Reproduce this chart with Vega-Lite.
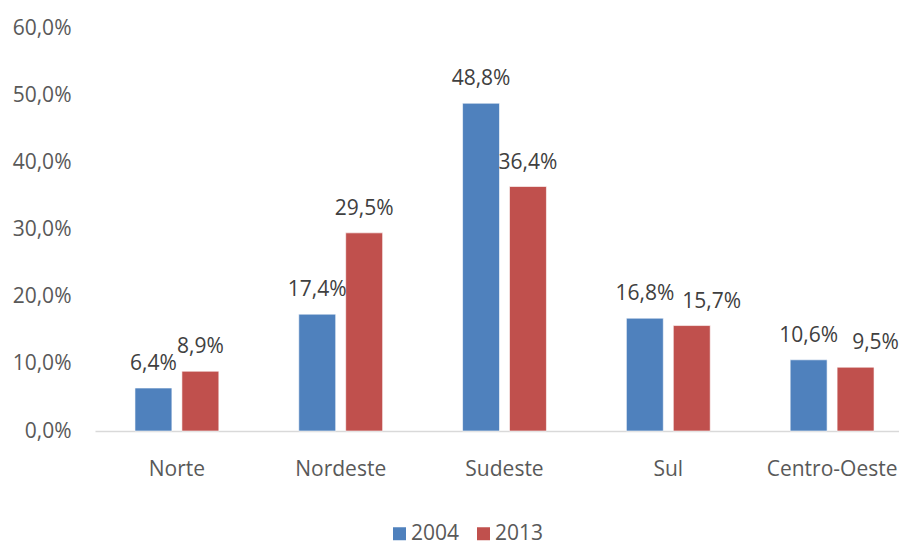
{
  "$schema": "https://vega.github.io/schema/vega-lite/v6.json",
  "width": 804,
  "height": 403,
  "autosize": {"type": "none"},
  "padding": {"left": 95, "top": 28, "right": 0, "bottom": 112},
  "background": "white",
  "config": {
    "view": {"stroke": null},
    "font": "Open Sans"
  },
  "data": {
    "values": [
      {"regiao": "Norte", "ano": "2004", "valor": 6.4, "rotulo": "6,4%"},
      {"regiao": "Norte", "ano": "2013", "valor": 8.9, "rotulo": "8,9%"},
      {"regiao": "Nordeste", "ano": "2004", "valor": 17.4, "rotulo": "17,4%"},
      {"regiao": "Nordeste", "ano": "2013", "valor": 29.5, "rotulo": "29,5%"},
      {"regiao": "Sudeste", "ano": "2004", "valor": 48.8, "rotulo": "48,8%"},
      {"regiao": "Sudeste", "ano": "2013", "valor": 36.4, "rotulo": "36,4%"},
      {"regiao": "Sul", "ano": "2004", "valor": 16.8, "rotulo": "16,8%"},
      {"regiao": "Sul", "ano": "2013", "valor": 15.7, "rotulo": "15,7%"},
      {"regiao": "Centro-Oeste", "ano": "2004", "valor": 10.6, "rotulo": "10,6%"},
      {"regiao": "Centro-Oeste", "ano": "2013", "valor": 9.5, "rotulo": "9,5%"}
    ]
  },
  "encoding": {
    "x": {
      "field": "regiao",
      "type": "nominal",
      "sort": ["Norte", "Nordeste", "Sudeste", "Sul", "Centro-Oeste"],
      "scale": {"range": [0, 819], "paddingInner": 0.488, "paddingOuter": 0.244},
      "axis": {
        "title": null,
        "labelAngle": 0,
        "ticks": false,
        "domainColor": "#d9d9d9",
        "domainWidth": 1.5,
        "labelFontSize": 21,
        "labelColor": "#595959",
        "labelPadding": 27,
        "labelFont": "Open Sans"
      }
    },
    "xOffset": {
      "field": "ano",
      "type": "nominal",
      "scale": {"paddingInner": 0.213, "paddingOuter": 0}
    },
    "y": {
      "field": "valor",
      "type": "quantitative",
      "scale": {"domain": [0, 60]},
      "axis": {
        "title": null,
        "values": [0, 10, 20, 30, 40, 50, 60],
        "labelExpr": "replace(format(datum.value, '.1f'), '.', ',') + '%'",
        "grid": false,
        "domain": false,
        "ticks": false,
        "labelFontSize": 21,
        "labelColor": "#595959",
        "labelPadding": 24,
        "labelFont": "Open Sans"
      }
    }
  },
  "layer": [
    {
      "mark": {"type": "bar", "stroke": "white", "strokeWidth": 1, "strokeOpacity": 0.6},
      "encoding": {
        "color": {
          "field": "ano",
          "type": "nominal",
          "scale": {"domain": ["2004", "2013"], "range": ["#4f81bd", "#c0504d"]},
          "legend": {
            "title": null,
            "orient": "none",
            "direction": "horizontal",
            "legendX": 294,
            "legendY": 495,
            "symbolType": "square",
            "symbolSize": 169,
            "symbolStrokeWidth": 0,
            "labelFontSize": 21,
            "labelColor": "#595959",
            "labelFont": "Open Sans",
            "labelOffset": 1,
            "columnPadding": 13
          }
        }
      }
    },
    {
      "transform": [{"filter": "datum.rotulo != '15,7%' && datum.rotulo != '9,5%'"}],
      "mark": {"type": "text", "baseline": "alphabetic", "dy": -18, "fontSize": 21, "color": "#404040", "font": "Open Sans"},
      "encoding": {
        "text": {"field": "rotulo"}
      }
    },
    {
      "transform": [{"filter": "datum.rotulo == '15,7%' || datum.rotulo == '9,5%'"}],
      "mark": {"type": "text", "baseline": "alphabetic", "dy": -18, "dx": 20, "fontSize": 21, "color": "#404040", "font": "Open Sans"},
      "encoding": {
        "text": {"field": "rotulo"}
      }
    }
  ]
}
